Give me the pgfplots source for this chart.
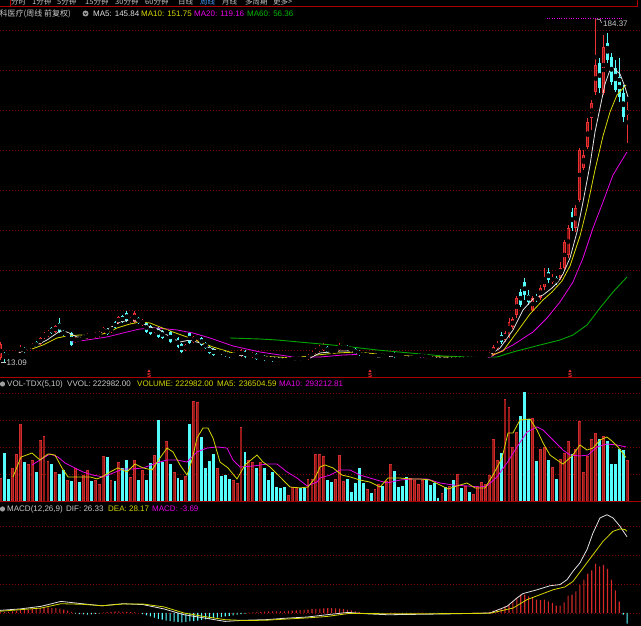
\documentclass[border=0pt]{standalone}
\usepackage{fontspec}
\setmainfont{Liberation Sans}
\newfontfamily\cjk{Noto Sans CJK SC}
\usepackage{pgfplots}
\usepackage{pgfplotstable}
\pgfplotsset{compat=1.18}

\definecolor{upred}{RGB}{235,50,50}
\definecolor{upfill}{RGB}{140,20,20}
\definecolor{volred}{RGB}{210,45,45}
\definecolor{volfill}{RGB}{150,26,26}
\definecolor{macdred}{RGB}{215,40,40}
\definecolor{dncyan}{RGB}{84,252,252}
\definecolor{ma5c}{RGB}{225,225,225}
\definecolor{ma10c}{RGB}{215,215,0}
\definecolor{ma20c}{RGB}{230,0,230}
\definecolor{ma60c}{RGB}{0,165,0}
\definecolor{gridc}{RGB}{130,0,0}
\definecolor{sepc}{RGB}{170,0,0}
\definecolor{txtc}{RGB}{200,200,200}
\definecolor{selc}{RGB}{70,160,255}

% weekly candles: index, open, high, low, close, up(1)/down(0), volume (k), MACD bar
\pgfplotstableread{
i o h l c u v m
0 15 23 14 22 1 125 0.2
1 17.5 18 13.09 15.5 0 261 0.3
2 16.5 17 14 15 0 120 0.4
3 16 17.5 15.5 17 1 180 0.6
4 16.5 18.5 16 18 1 256 0.8
5 18 21.5 17.5 20.5 1 419 1.0
6 20 20.5 17.5 18 0 212 1.1
7 19.5 21.5 19 21 1 201 1.2
8 20 22.5 19.5 22 1 223 1.4
9 23 23.5 20 20.5 0 158 1.5
10 22 25.5 21.5 25 1 332 1.7
11 25 28 24.5 27.5 1 354 1.8
12 26 29 25.5 28.5 1 218 1.9
13 30 30.5 27 27.5 0 201 1.8
14 28 31.5 27.5 31 1 158 1.7
15 32.5 35 27.5 28 0 147 1.5
16 28.5 29 26 26.5 0 169 1.2
17 25.5 27.5 25 27 1 114 0.8
18 27.5 28 21 21.5 0 109 0.4
19 23 25.5 22.5 25 1 180 -0.2
20 25 25.5 23 23.5 0 103 -0.4
21 24.5 26.5 24 26 1 141 -0.5
22 25 27.5 24.5 27 1 169 -0.6
23 26.5 27 24.5 25 0 109 -0.5
24 25.5 28 25 27.5 1 114 -0.3
25 26 28.5 25.5 28 1 92 -0.1
26 27.5 30.5 27 30 1 245 0.2
27 29.5 30 26.5 27 0 239 0.3
28 28 31 27.5 30.5 1 114 0.4
29 33 33.5 29.5 30 0 109 0.5
30 32.5 36 32 35.5 1 212 0.6
31 36 36.5 32.5 33 0 180 0.5
32 37.5 38.5 33 33.5 0 223 0.4
33 33 35.5 32.5 35 1 131 0.3
34 33 38.5 32.5 37.5 1 223 0.2
35 35 35.5 32 32.5 0 114 0.0
36 31.5 34.5 31 34 1 169 -0.4
37 32.5 33 27.5 28 0 114 -0.8
38 31 31.5 26.5 27 0 207 -1.2
39 28 30.5 27.5 30 1 250 -1.6
40 30 30.5 25 25.5 0 441 -2.0
41 28.5 29 24.5 25 0 212 -2.3
42 27 29.5 26.5 29 1 326 -2.6
43 28 28.5 22.5 23 0 201 -2.8
44 24.5 26.5 24 26 1 158 -3.0
45 25 25.5 20 20.5 0 125 -3.1
46 22 22.5 17.5 18 0 114 -3.2
47 19 22 18.5 21.5 1 136 -3.1
48 27.5 28 22 22.5 0 419 -2.9
49 23 26 22.5 25.5 1 544 -2.8
50 24 27 23.5 26.5 1 539 -2.6
51 25 25.5 21 21.5 0 348 -2.4
52 22.5 23 19.5 20 0 180 -2.2
53 20.5 21 17 17.5 0 218 -2.0
54 19.5 20 16 16.5 0 256 -1.8
55 17.5 19.5 17 19 1 180 -1.6
56 19 19.5 16.5 17 0 136 -1.4
57 18 18.5 15.5 16 0 141 -1.2
58 17.5 18 15 15.5 0 120 -1.0
59 16 17.5 15.5 17 1 114 -0.8
60 16 18 15.5 17.5 1 98 -0.6
61 16 19.5 15.5 19 1 403 -0.4
62 18.5 19 15 15.5 0 267 -0.2
63 15.5 17.5 15 17 1 223 0.1
64 15.5 18 15 17.5 1 212 0.2
65 17 17.5 14 14.5 0 180 0.3
66 15 17 14.5 16.5 1 212 0.4
67 16 16.5 13.5 14 0 180 0.5
68 15.5 16 13.5 14 0 114 0.6
69 15.5 16 13.2 13.5 0 158 0.6
70 15 15.5 13.2 13.5 0 76 0.6
71 14.5 15 13.2 13.5 0 71 0.6
72 14.5 15 13.2 13.5 0 76 0.6
73 14 15 13.5 14.5 1 33 0.7
74 14 15.5 13.5 15 1 76 0.8
75 14.5 16 14 15.5 1 76 0.9
76 15.5 16 13.5 14 0 71 1.0
77 15 15.5 13.5 14 0 71 1.1
78 14.5 17 14 16.5 1 120 1.2
79 16 18.5 15.5 18 1 120 1.3
80 17.5 20 17 19.5 1 256 1.4
81 18.5 21.5 18 20.5 1 256 1.5
82 19 22.5 18.5 21.5 1 245 1.6
83 20.5 21 17.5 18 0 114 1.7
84 19 19.5 17 17.5 0 103 1.7
85 18 20 17.5 19.5 1 120 1.6
86 19 22.5 18.5 21.5 1 250 1.5
87 19.5 21.5 19 21 1 109 1.3
88 21 21.5 18.5 19 0 120 1.1
89 20 20.5 18 18.5 0 49 0.9
90 19.5 20 16.5 17 0 98 0.6
91 18.5 19 16 16.5 0 180 0.3
92 17.5 18 15.5 16 0 98 0.1
93 16 17.5 15.5 17 1 65 -0.1
94 16.5 17 15 15.5 0 44 -0.2
95 15.5 17 15 16.5 1 65 -0.2
96 16 17.5 15.5 17 1 92 -0.2
97 16.5 17 15 15.5 0 82 -0.1
98 15.5 17.5 15 17 1 109 0.0
99 16 18.5 15.5 18 1 201 0.1
100 17.5 18 15 15.5 0 163 0.1
101 16.5 17 15 15.5 0 76 0.0
102 16 16.5 14.5 15 0 82 -0.1
103 15.5 16 14 14.5 0 131 -0.1
104 14.5 16 14 15.5 1 125 -0.1
105 15 16.5 14.5 16 1 114 0.0
106 15.5 17 15 16.5 1 92 0.1
107 15.5 17.5 15 17 1 114 0.1
108 16.5 17 14.5 15 0 120 0.0
109 16 16.5 14 14.5 0 87 -0.1
110 15 15.5 14 14.5 0 98 -0.1
111 14.5 15 13.5 14 0 16 -0.1
112 14 15 13.5 14.5 1 44 -0.1
113 14.5 15 13.2 13.5 0 76 -0.1
114 14 15 13.5 14.5 1 82 0.0
115 15 15.5 13.5 14 0 114 0.0
116 14 15.5 13.5 15 1 147 0.0
117 15 15.5 13.5 14 0 71 0.0
118 14.5 15.5 14 15 1 82 0.0
119 15 15.5 14 14.5 0 49 0.0
120 14.5 15.5 14 15 1 38 0.1
121 14.5 16 14 15.5 1 82 0.1
122 15 16.5 14.5 16 1 103 0.1
123 15 16.5 14.5 16 1 92 0.2
124 15.5 18 15 17.5 1 141 0.4
125 16.5 21.5 16 20.5 1 337 0.8
126 20 23.5 19.5 22.5 1 223 1.15
127 26.5 28 22 23 0 261 1.6
128 24 28.5 23 27.5 1 555 2.3
129 25.5 35 25 33 1 511 2.9
130 30.5 35.5 29.5 34.5 1 294 4.0
131 36.5 46 35 45 1 375 5.2
132 48 49.5 40.5 41.5 0 462 6.3
133 53 55 44 46.5 0 593 6.3
134 46.5 49 41.5 43 0 446 5.75
135 39 46 38 45 1 452 5.5
136 45.5 47 43 44 0 218 4.6
137 45 51.5 44 50 1 283 4.4
138 50.5 60 49 55.5 1 294 4.6
139 58 60 52.5 54 0 223 4.0
140 53 57 52 55.5 1 185 3.45
141 55 56 51.5 52.5 0 120 2.5
142 55 63 54 60 1 228 2.5
143 60 74 59 73 1 261 3.7
144 66.5 81.5 65 80 1 326 6.0
145 88 90 78.5 80 0 256 6.3
146 80 91.5 78 90 1 283 7.5
147 94 120 93 119 1 435 9.8
148 110 119 109 116.5 1 158 11.5
149 120.5 135 119.5 133 1 245 13.6
150 135 144 129 142.5 1 337 14.7
151 148 184.37 146.5 161.5 1 370 17.0
152 162.5 165 147.5 150 0 337 16.1
153 147.5 176.5 146.5 170.5 1 354 16.6
154 172.5 177.5 162.5 164 0 326 15.2
155 165.5 167.5 151.5 153 0 201 11.5
156 160 164 148 149 0 201 7.8
157 155.5 165 143 145.5 0 283 3.9
158 147.5 151.5 133 135.5 0 277 -0.6
159 136.5 143 122.5 139 1 223 -3.69
}\kdata

\pgfplotsset{
  panel/.style={scale only axis, width=641pt, xmin=0, xmax=641, clip=true,
    axis line style={draw=none}, xtick=\empty, ytick=\empty, anchor=south west},
  ups/.style={restrict expr to domain={\thisrow{u}}{0.5:1.5}},
  dns/.style={restrict expr to domain={\thisrow{u}}{-0.5:0.5}},
  ebar/.style 2 args={only marks, mark=none,
    error bars/y dir=both, error bars/y explicit, error bars/error mark=none,
    error bars/error bar style={line width=#2, draw=#1, line cap=butt}},
}
\tikzset{lbl/.style={anchor=west, inner sep=0pt, font=\fontsize{8}{9.6}\selectfont},
  gridl/.style={gridc, line width=0.7pt, dash pattern=on 0.8pt off 2.2pt}}

\begin{document}
\begin{tikzpicture}
\fill[black] (0,0) rectangle (641pt,626pt);

% dotted grid of the three panels
\foreach \gy in {596,556,516,476,436,396,356,316,276, 233.1,206.1,179,152, 100,71,42,13}
  \draw[gridl] (0,\gy pt) -- (641pt,\gy pt);

% ---------- price panel ----------
\begin{axis}[panel, at={(0pt,249pt)}, height=369pt, ymin=5.5, ymax=190]
% wicks
\addplot[ups, ebar={upred}{0.9pt}] table[x expr=\thisrow{i}*3.94+0.7, y expr=(\thisrow{h}+\thisrow{l})/2,
  y error plus expr=(\thisrow{h}-\thisrow{l})/2, y error minus expr=(\thisrow{h}-\thisrow{l})/2] {\kdata};
\addplot[dns, ebar={dncyan}{0.9pt}] table[x expr=\thisrow{i}*3.94+0.7, y expr=(\thisrow{h}+\thisrow{l})/2,
  y error plus expr=(\thisrow{h}-\thisrow{l})/2, y error minus expr=(\thisrow{h}-\thisrow{l})/2] {\kdata};
% bodies
\addplot[ups, ebar={upred}{2.9pt}] table[x expr=\thisrow{i}*3.94+0.7, y expr=(\thisrow{o}+\thisrow{c})/2,
  y error plus expr=abs(\thisrow{c}-\thisrow{o})/2, y error minus expr=abs(\thisrow{c}-\thisrow{o})/2] {\kdata};
\addplot[ups, ebar={upfill}{1.2pt}] table[x expr=\thisrow{i}*3.94+0.7, y expr=(\thisrow{o}+\thisrow{c})/2,
  y error plus expr={max(abs(\thisrow{c}-\thisrow{o})/2-0.45,0)}, y error minus expr={max(abs(\thisrow{c}-\thisrow{o})/2-0.45,0)}] {\kdata};
\addplot[dns, ebar={dncyan}{2.9pt}] table[x expr=\thisrow{i}*3.94+0.7, y expr=(\thisrow{o}+\thisrow{c})/2,
  y error plus expr=abs(\thisrow{c}-\thisrow{o})/2, y error minus expr=abs(\thisrow{c}-\thisrow{o})/2] {\kdata};

% MA60
\addplot[ma60c, line width=0.9pt] coordinates {(230,25) (260,24.5) (277,24) (310,22.5) (343,21) (377,19) (410,17.5) (443,16) (470,15.5) (497,15.5) (513,18) (540,21.5) (560,24) (573,26.5) (587,31.5) (600,40) (613,48) (627,55.5)};
% MA20
\addplot[ma20c, line width=0.8pt] coordinates {(72,23) (87,24) (107,25.5) (127,28) (140,29.5) (157,30) (177,29) (193,27.5) (210,25) (233,21) (260,18) (293,15.5) (320,15.5) (343,16.5) (370,17) (397,16) (430,15) (463,14.5) (490,15.5) (513,21.5) (533,28) (547,35) (560,43) (573,53) (583,65) (593,80) (603,93) (613,106.5) (627,118)};
% MA10
\addplot[ma10c, line width=0.8pt] coordinates {(32,19.5) (43,21.5) (57,25) (67,26) (80,26.5) (93,26) (107,27.5) (117,30) (130,32) (140,33) (150,32.5) (160,30.5) (173,28) (187,25.5) (200,23) (213,20.5) (233,17.5) (260,16) (293,15) (317,16.5) (337,17.5) (357,18) (377,17) (410,16) (443,15.5) (477,15) (490,16) (503,18.5) (517,28) (530,37) (543,44) (552,48) (562,53.5) (570,61) (580,76) (587,90) (595,109) (603,126) (610,138) (617,146.5) (626,151.5)};
% MA5
\addplot[ma5c, line width=0.8pt] coordinates {(13,16.5) (33,20.5) (47,24) (60,28.5) (67,28) (77,25.5) (87,25) (100,27.5) (110,30) (120,33) (130,34) (140,33) (150,30.5) (160,29) (170,25.5) (180,23) (190,24) (200,22.5) (210,20) (220,18.5) (233,16.5) (250,16) (267,15.5) (280,15) (293,14) (310,15) (320,17.5) (330,18) (340,18.5) (350,18.5) (357,17.5) (377,15.5) (397,16) (427,15.5) (443,15) (470,14.5) (487,15.5) (500,20) (513,29) (523,39) (533,44.5) (543,46.5) (552,50) (558,53) (563,57) (570,65) (577,78) (583,93) (590,111.5) (595,128) (600,140) (605,152) (610,159) (613,160) (620,157) (625,150.5) (628,145.5)};

% high / low marks
\addplot[ma20c, line width=0.9pt, dash pattern=on 1pt off 1.4pt] coordinates {(547,184.6) (623,184.6)};
\addplot[txtc, line width=0.6pt] coordinates {(596.5,184.37) (600,184.37) (601.5,182.6)};
\node[lbl, text=txtc] at (axis cs:603,182.3) {184.37};
\addplot[txtc, line width=0.6pt] coordinates {(0.5,12.6) (5.5,12.6)};
\node[lbl, text=txtc] at (axis cs:6.5,12.6) {13.09};
\end{axis}

% ---------- volume panel ----------
\begin{axis}[panel, at={(0pt,125pt)}, height=124pt, ymin=0, ymax=674.6]
\addplot[ups, ycomb, draw=volred, line width=2.9pt, mark=none] table[x expr=\thisrow{i}*3.94+0.7, y=v] {\kdata};
\addplot[ups, ycomb, draw=volfill, line width=1.6pt, mark=none] table[x expr=\thisrow{i}*3.94+0.7, y expr=\thisrow{v}-4] {\kdata};
\addplot[dns, ycomb, draw=dncyan, line width=2.9pt, mark=none] table[x expr=\thisrow{i}*3.94+0.7, y=v] {\kdata};
% volume MA10
\addplot[ma20c, line width=0.8pt] coordinates {(32,196) (40,223) (50,256) (58,239) (65,207) (73,185) (83,158) (93,141) (103,131) (113,152) (123,174) (133,174) (143,180) (157,207) (167,223) (177,223) (187,212) (197,267) (207,288) (217,294) (227,288) (233,223) (240,185) (253,190) (267,201) (277,201) (287,158) (297,125) (307,82) (317,103) (320,125) (330,141) (340,169) (350,169) (360,141) (373,120) (387,98) (400,114) (413,120) (427,120) (440,98) (453,87) (467,82) (480,76) (487,82) (497,131) (507,207) (517,294) (527,375) (537,403) (543,386) (553,332) (563,277) (570,250) (580,245) (588,250) (597,294) (607,310) (617,305) (626,294)};
% volume MA5
\addplot[ma10c, line width=0.8pt] coordinates {(13,131) (21,239) (32,261) (40,223) (48,256) (55,250) (62,180) (68,131) (77,131) (83,131) (90,131) (97,120) (102,131) (110,158) (118,180) (127,158) (135,201) (143,180) (152,169) (160,234) (167,288) (173,267) (180,196) (187,141) (192,223) (197,343) (203,397) (208,397) (213,343) (220,212) (228,180) (237,120) (245,196) (257,250) (263,212) (270,185) (280,131) (290,76) (300,71) (308,76) (315,125) (320,185) (325,196) (333,180) (342,141) (350,131) (360,114) (370,103) (380,76) (388,125) (400,125) (410,120) (420,120) (430,114) (440,87) (448,65) (457,82) (467,98) (475,71) (485,71) (493,141) (502,234) (508,370) (513,370) (520,441) (530,446) (537,386) (543,316) (550,250) (557,223) (563,201) (572,245) (580,305) (587,277) (593,288) (600,332) (607,348) (612,326) (618,294) (626,237)};
\end{axis}

% ---------- MACD panel ----------
\begin{axis}[panel, at={(0pt,0pt)}, height=125pt, ymin=-4.485, ymax=38.64]
\addplot[ybar, bar width=1.1pt, bar shift=0pt, fill=macdred, draw=none,
  restrict expr to domain={\thisrow{m}}{0:100}] table[x expr=\thisrow{i}*3.94+0.7, y=m] {\kdata};
\addplot[ybar, bar width=1.1pt, bar shift=0pt, fill=dncyan, draw=none,
  restrict expr to domain={\thisrow{m}}{-100:-0.01}] table[x expr=\thisrow{i}*3.94+0.7, y=m] {\kdata};
% DIF
\addplot[ma5c, line width=0.8pt] coordinates {(0,0.9) (20,1.4) (41,2.3) (61,4.0) (82,3.2) (102,2.5) (123,3.2) (143,2.9) (164,1.4) (184,-0.6) (204,-1.7) (225,-2.9) (245,-2.5) (266,-2.3) (286,-1.8) (307,-1.4) (327,-0.6) (348,0.2) (368,-0.3) (388,-0.6) (409,-0.5) (450,-0.3) (490,0) (507,2.3) (517,5.2) (523,6.7) (537,8.0) (550,9.4) (560,9.8) (567,11.5) (573,14.4) (580,17.3) (587,21.9) (593,27.6) (600,32.8) (607,33.9) (613,32.8) (620,29.9) (627,26.3)};
% DEA
\addplot[ma10c, line width=0.8pt] coordinates {(0,0.6) (41,1.7) (61,3.2) (82,3.0) (102,2.5) (123,3.1) (143,3.1) (164,2.1) (184,0) (204,-1.2) (225,-2.3) (245,-2.6) (266,-2.5) (286,-2.1) (307,-1.7) (327,-1.2) (348,-0.2) (368,-0.2) (409,-0.3) (490,-0.1) (513,1.7) (527,4.6) (540,6.3) (553,8.0) (565,9.0) (573,10.9) (583,15.5) (593,20.1) (603,24.7) (613,28.2) (620,29.0) (625,28.8) (627,28.2)};
\end{axis}

% panel separators and menu frame
\draw[sepc, line width=1pt] (0,248.5pt) -- (641pt,248.5pt);
\draw[sepc, line width=1pt] (0,124.5pt) -- (641pt,124.5pt);
\draw[sepc, line width=0.8pt] (0,619.5pt) -- (637pt,619.5pt) -- (637pt,626pt);
\draw[sepc, line width=0.9pt] (10pt,619.5pt) -- (10pt,626pt);

% split markers
\foreach \sx in {149,370,570}{
  \fill[upred] (\sx pt-1.6pt,254pt) -- (\sx pt+1.6pt,254pt) -- (\sx pt,256.5pt) -- cycle;
  \node[text=upred, inner sep=0pt, font=\fontsize{6}{6}\bfseries\selectfont] at (\sx pt,251pt) {S};
}

% top menu (cut by the page edge, as in the source screen)
\begin{scope}[every node/.style={anchor=west, inner sep=0pt, text=txtc, font=\cjk\fontsize{7.5}{8}\selectfont}]
\node at (11pt,624pt) {分时};
\node at (32pt,624pt) {1分钟};
\node at (57pt,624pt) {5分钟};
\node at (85pt,624pt) {15分钟};
\node at (115pt,624pt) {30分钟};
\node at (145pt,624pt) {60分钟};
\node at (178pt,624pt) {日线};
\node[text=selc] at (200pt,624pt) {周线};
\node at (222pt,624pt) {月线};
\node at (245pt,624pt) {多周期};
\node at (273pt,624pt) {更多>};
\end{scope}

% title row
\node[lbl, text=txtc, font=\cjk\fontsize{8}{9.6}\selectfont] at (-8.5pt,612.5pt) {英科医疗(周线 前复权)};
\fill[gray!75] (85.5pt,612.5pt) circle (3pt);
\draw[black, line width=0.6pt] (84pt,613.3pt) -- (85.5pt,611.6pt) -- (87pt,613.3pt);
\node[lbl, text=ma5c] at (93pt,612.5pt) {MA5: 145.84};
\node[lbl, text=ma10c] at (141pt,612.5pt) {MA10: 151.75};
\node[lbl, text=ma20c] at (194pt,612.5pt) {MA20: 119.16};
\node[lbl, text=ma60c!80!green] at (247pt,612.5pt) {MA60: 56.36};

% volume row
\fill[gray!75] (2.5pt,242pt) circle (2.6pt);
\node[lbl, text=txtc] at (7pt,242pt) {VOL-TDX(5,10)};
\node[lbl, text=txtc] at (67pt,242pt) {VVOL: 222982.00};
\node[lbl, text=ma10c] at (137pt,242pt) {VOLUME: 222982.00};
\node[lbl, text=ma10c] at (217pt,242pt) {MA5: 236504.59};
\node[lbl, text=ma20c] at (279pt,242pt) {MA10: 293212.81};

% MACD row
\fill[gray!75] (2.5pt,117pt) circle (2.6pt);
\node[lbl, text=txtc] at (7pt,117pt) {MACD(12,26,9)};
\node[lbl, text=txtc] at (66pt,117pt) {DIF: 26.33};
\node[lbl, text=ma10c] at (108pt,117pt) {DEA: 28.17};
\node[lbl, text=ma20c] at (152pt,117pt) {MACD: -3.69};

\pgfresetboundingbox
\path[use as bounding box] (0,0) rectangle (641pt,626pt);
\end{tikzpicture}
\end{document}
